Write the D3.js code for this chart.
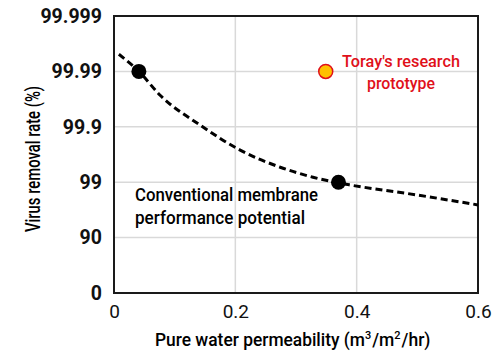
<!DOCTYPE html>
<html><head><meta charset="utf-8">
<script src="https://cdn.jsdelivr.net/npm/d3@7"></script>
<style>
html,body{margin:0;padding:0;background:#fff;}
text{font-family:Roboto,"Liberation Sans",Arial,sans-serif;}
</style></head>
<body><div id="chart"></div>
<script>
// Log-reduction values (0..5) mapped to removal-rate labels
const yTickValues = [0, 1, 2, 3, 4, 5];
const yTickLabels = ["0", "90", "99", "99.9", "99.99", "99.999"];
const xTickValues = [0, 0.2, 0.4, 0.6];
const xTickLabels = ["0", "0.2", "0.4", "0.6"];
// Conventional membrane trade-off curve (permeability, log reduction)
const curveX = [0.008, 0.041, 0.076, 0.142, 0.208, 0.274, 0.328, 0.369, 0.389, 0.499, 0.6];
const curveY = [4.31, 4.0, 3.57, 3.03, 2.58, 2.27, 2.09, 1.99, 1.95, 1.77, 1.59];
// Conventional membrane data points
const convX = [0.041, 0.37];
const convY = [4.0, 2.0];
// Toray research prototype
const torayX = [0.349];
const torayY = [4.0];

const W = 500, H = 357;
const m = {left:114, right:22, top:16, bottom:64};
const svg = d3.select("#chart").append("svg").attr("width", W).attr("height", H);

const x = d3.scaleLinear().domain([0, 0.6]).range([m.left, W - m.right]);
const y = d3.scaleLinear().domain([0, 5]).range([H - m.bottom, m.top]);

// gridlines
svg.append("g").selectAll("line.h").data(yTickValues.slice(1, 5)).join("line")
  .attr("x1", x(0)).attr("x2", x(0.6)).attr("y1", d => y(d)).attr("y2", d => y(d))
  .attr("stroke", "#d9d9d9").attr("stroke-width", 1.5);
svg.append("g").selectAll("line.v").data(xTickValues.slice(1, 3)).join("line")
  .attr("y1", y(0)).attr("y2", y(5)).attr("x1", d => x(d)).attr("x2", d => x(d))
  .attr("stroke", "#d9d9d9").attr("stroke-width", 1.5);

// axes
const yAxis = d3.axisLeft(y).tickValues(yTickValues).tickFormat((d, i) => yTickLabels[i]).tickSize(0).tickPadding(12);
const gy = svg.append("g").attr("transform", `translate(${x(0)},0)`).call(yAxis);
gy.select(".domain").remove();
gy.selectAll("text").attr("font-size", 19.5).attr("fill", "#111")
  .attr("font-family", "'Liberation Sans',Arial,sans-serif").attr("font-weight", "bold");

const xAxis = d3.axisBottom(x).tickValues(xTickValues).tickFormat((d, i) => xTickLabels[i]).tickSize(0).tickPadding(12);
const gx = svg.append("g").attr("transform", `translate(0,${y(0)})`).call(xAxis);
gx.select(".domain").remove();
gx.selectAll("text").attr("font-size", 19).attr("fill", "#111")
  .attr("font-family", "'Liberation Sans',Arial,sans-serif");

// frame
svg.append("rect").attr("x", x(0)).attr("y", y(5)).attr("width", x(0.6) - x(0)).attr("height", y(0) - y(5))
  .attr("fill", "none").attr("stroke", "#1a1a1a").attr("stroke-width", 2);

// dashed curve
const pts = curveX.map((d, i) => [d, curveY[i]]);
svg.append("path").datum(pts)
  .attr("d", d3.line().x(d => x(d[0])).y(d => y(d[1])).curve(d3.curveMonotoneX))
  .attr("fill", "none").attr("stroke", "#000").attr("stroke-width", 3).attr("stroke-dasharray", "7,4");

// points
svg.append("g").selectAll("circle").data(convX.map((d, i) => [d, convY[i]])).join("circle")
  .attr("cx", d => x(d[0])).attr("cy", d => y(d[1])).attr("r", 7.5).attr("fill", "#000");
svg.append("g").selectAll("circle").data(torayX.map((d, i) => [d, torayY[i]])).join("circle")
  .attr("cx", d => x(d[0])).attr("cy", d => y(d[1])).attr("r", 7).attr("fill", "#ffc000")
  .attr("stroke", "#e0101a").attr("stroke-width", 1.5);

// annotations
function fit(sel, len){ sel.attr("textLength", len).attr("lengthAdjust", "spacingAndGlyphs"); return sel; }
const toray = svg.append("text").attr("fill", "#e0101a").attr("font-size", 17).attr("font-weight", 500);
fit(toray.append("tspan").attr("x", 342).attr("y", 67).text("Toray's research"), 118);
fit(toray.append("tspan").attr("x", 367).attr("y", 89).text("prototype"), 68);

const conv = svg.append("text").attr("fill", "#000").attr("font-size", 17.5).attr("font-weight", 500);
fit(conv.append("tspan").attr("x", 135).attr("y", 201).text("Conventional membrane"), 183);
fit(conv.append("tspan").attr("x", 135).attr("y", 224).text("performance potential"), 170);

// axis titles
const xt = svg.append("text").attr("x", 155).attr("y", 346)
  .attr("font-size", 17.5).attr("font-weight", 500).attr("fill", "#000");
fit(xt.append("tspan").text("Pure water permeability (m"), 210);
xt.append("tspan").attr("font-size", 11).attr("dy", -7).text("3");
xt.append("tspan").attr("dy", 7).attr("dx", 1).text("/m");
xt.append("tspan").attr("font-size", 11).attr("dy", -7).text("2");
xt.append("tspan").attr("dy", 7).attr("dx", 1).text("/hr)");

fit(svg.append("text").attr("transform", "translate(40,159) rotate(-90)").attr("text-anchor", "middle")
  .attr("font-size", 19.5).attr("font-weight", 500).attr("fill", "#000").text("Virus removal rate (%)"), 146);
</script></body></html>
